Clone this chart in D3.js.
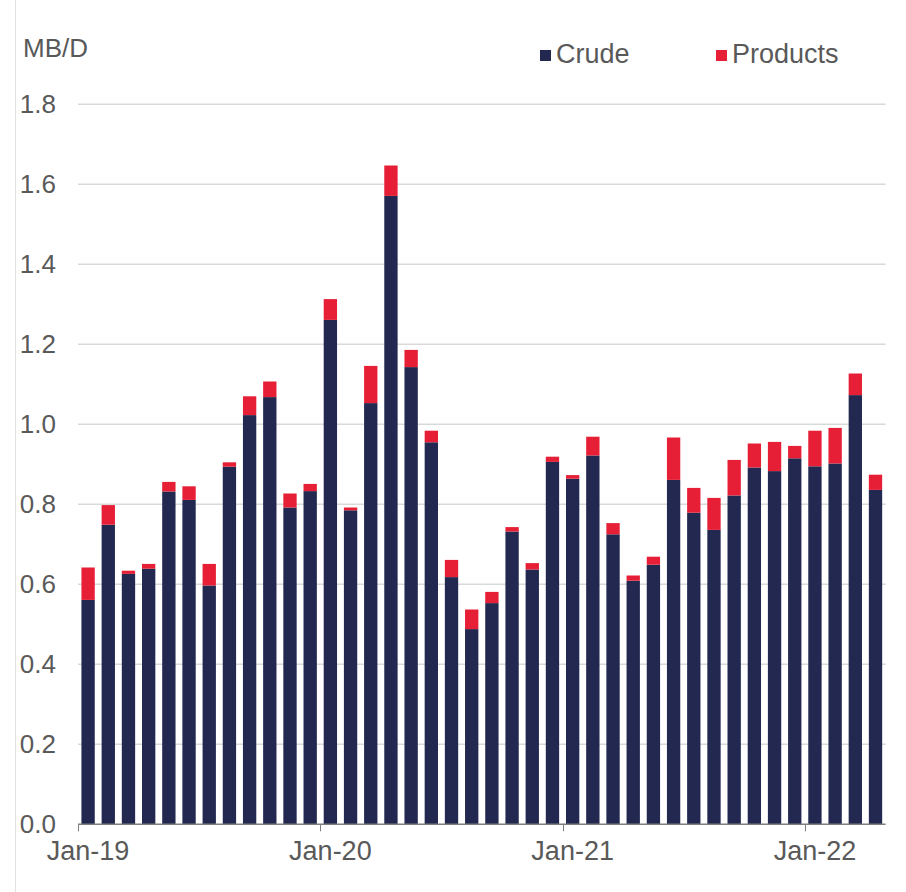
<!DOCTYPE html>
<html>
<head>
<meta charset="utf-8">
<script src="https://cdn.jsdelivr.net/npm/d3@7"></script>
<style>
	body { margin: 0; background: #ffffff; }
	text { font-family: "Liberation Sans", Arial, Helvetica, sans-serif; fill: #595959; }
</style>
</head>
<body>
<div id="canvas"></div>
<script>
var months = [
	"Jan-19","Feb-19","Mar-19","Apr-19","May-19","Jun-19","Jul-19","Aug-19","Sep-19","Oct-19","Nov-19","Dec-19",
	"Jan-20","Feb-20","Mar-20","Apr-20","May-20","Jun-20","Jul-20","Aug-20","Sep-20","Oct-20","Nov-20","Dec-20",
	"Jan-21","Feb-21","Mar-21","Apr-21","May-21","Jun-21","Jul-21","Aug-21","Sep-21","Oct-21","Nov-21","Dec-21",
	"Jan-22","Feb-22","Mar-22","Apr-22"
];
var crude = [
	0.561, 0.749, 0.626, 0.639, 0.832, 0.811, 0.597, 0.894, 1.023, 1.068, 0.792, 0.833,
	1.261, 0.785, 1.053, 1.571, 1.143, 0.955, 0.618, 0.488, 0.553, 0.732, 0.637, 0.906,
	0.864, 0.922, 0.725, 0.609, 0.649, 0.861, 0.779, 0.736, 0.822, 0.892, 0.883, 0.915,
	0.895, 0.902, 1.073, 0.836
];
var products = [
	0.081, 0.049, 0.008, 0.012, 0.024, 0.034, 0.054, 0.011, 0.047, 0.039, 0.035, 0.018,
	0.052, 0.007, 0.093, 0.076, 0.043, 0.029, 0.043, 0.049, 0.028, 0.011, 0.016, 0.013,
	0.009, 0.047, 0.028, 0.013, 0.020, 0.106, 0.062, 0.080, 0.089, 0.060, 0.073, 0.031,
	0.089, 0.089, 0.054, 0.038
];
var seriesNames = ["Crude", "Products"];
var seriesColors = ["#22284f", "#e61e36"];
var xTickLabels = ["Jan-19", "Jan-20", "Jan-21", "Jan-22"];
var yTicks = [0, 0.2, 0.4, 0.6, 0.8, 1.0, 1.2, 1.4, 1.6, 1.8];

var w = 906, h = 892;
var plotLeft = 78, plotRight = 885.6, plotTop = 104.3, plotBottom = 824.3;

var rows = months.map(function(m, i){
	return { month: m, Crude: crude[i], Products: products[i] };
});

var svg = d3.select("#canvas")
	.append("svg")
	.attr("width", w)
	.attr("height", h);

svg.append("rect")
	.attr("width", w)
	.attr("height", h)
	.attr("fill", "#ffffff");

// faint frame line on the left
svg.append("line")
	.attr("x1", 15.5).attr("x2", 15.5)
	.attr("y1", 0).attr("y2", h)
	.attr("stroke", "#e2e2e2")
	.attr("stroke-width", 1);

var x = d3.scaleBand()
	.domain(months)
	.range([plotLeft, plotRight])
	.paddingInner(0.34)
	.paddingOuter(0.17);

var y = d3.scaleLinear()
	.domain([0, 1.8])
	.range([plotBottom, plotTop]);

var color = d3.scaleOrdinal()
	.domain(seriesNames)
	.range(seriesColors);

// gridlines
svg.append("g")
	.selectAll("line")
	.data(yTicks.filter(function(d){ return d > 0; }))
	.enter()
	.append("line")
	.attr("x1", plotLeft)
	.attr("x2", plotRight)
	.attr("y1", function(d){ return y(d); })
	.attr("y2", function(d){ return y(d); })
	.attr("stroke", "#d9d9d9")
	.attr("stroke-width", 1.5);

// y labels
svg.append("g")
	.selectAll("text")
	.data(yTicks)
	.enter()
	.append("text")
	.attr("x", 56)
	.attr("y", function(d){ return y(d); })
	.attr("dy", "0.32em")
	.attr("text-anchor", "end")
	.attr("font-size", 26)
	.text(d3.format(".1f"));

svg.append("text")
	.attr("x", 23)
	.attr("y", 57)
	.attr("font-size", 26)
	.text("MB/D");

// stacked bars
var stack = d3.stack().keys(seriesNames);
var layers = stack(rows);

svg.append("g")
	.selectAll("g")
	.data(layers)
	.enter()
	.append("g")
	.attr("fill", function(d){ return color(d.key); })
	.selectAll("rect")
	.data(function(d){ return d; })
	.enter()
	.append("rect")
	.attr("x", function(d){ return x(d.data.month); })
	.attr("y", function(d){ return y(d[1]); })
	.attr("width", x.bandwidth())
	.attr("height", function(d){ return y(d[0]) - y(d[1]); });

// x axis
svg.append("line")
	.attr("x1", plotLeft)
	.attr("x2", plotRight)
	.attr("y1", plotBottom)
	.attr("y2", plotBottom)
	.attr("stroke", "#7f7f7f")
	.attr("stroke-width", 1.5);

var xTicks = svg.append("g")
	.selectAll("g")
	.data(xTickLabels)
	.enter()
	.append("g");

xTicks.append("line")
	.attr("x1", function(d){ return Math.round(x(d) - x.step() * x.paddingInner() / 2) + 0.5; })
	.attr("x2", function(d){ return Math.round(x(d) - x.step() * x.paddingInner() / 2) + 0.5; })
	.attr("y1", plotBottom)
	.attr("y2", plotBottom + 7)
	.attr("stroke", "#7f7f7f")
	.attr("stroke-width", 1);

xTicks.append("text")
	.attr("x", function(d){ return x(d) + x.bandwidth() / 2; })
	.attr("y", 860)
	.attr("text-anchor", "middle")
	.attr("font-size", 27)
	.text(function(d){ return d; });

// legend
var legend = svg.append("g")
	.selectAll("g")
	.data(seriesNames)
	.enter()
	.append("g")
	.attr("transform", function(d, i){
		return "translate(" + [540, 716][i] + ", 0)";
	});

legend.append("rect")
	.attr("x", 0)
	.attr("y", 50)
	.attr("width", 11)
	.attr("height", 11)
	.attr("fill", function(d){ return color(d); });

legend.append("text")
	.attr("x", 16)
	.attr("y", 63)
	.attr("font-size", 27)
	.text(function(d){ return d; });
</script>
</body>
</html>
